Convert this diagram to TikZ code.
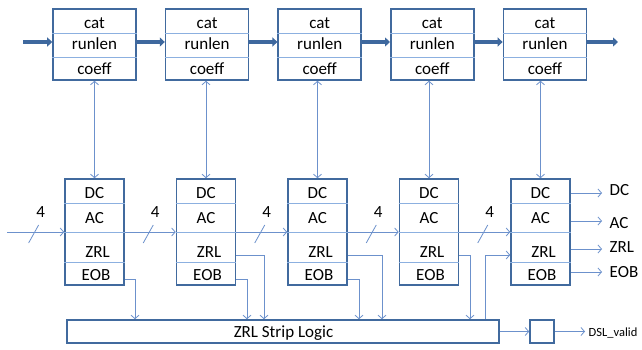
\documentclass[tikz,border=0pt]{standalone}
\usepackage{fontspec}
\setmainfont{Carlito}
\usetikzlibrary{arrows.meta,calc}
\definecolor{boxblue}{RGB}{65,106,158}
\definecolor{linblue}{RGB}{108,145,204}
\definecolor{divblue}{RGB}{140,176,224}
\definecolor{thickblue}{RGB}{62,104,158}
\begin{document}
\begin{tikzpicture}[x=1pt,y=-1pt,
  topbox/.style={draw=boxblue,line width=1.6pt,minimum width=83pt,minimum height=71pt,inner sep=0pt},
  botbox/.style={draw=boxblue,line width=1.6pt,minimum width=59pt,minimum height=106pt,inner sep=0pt},
  smallbox/.style={draw=boxblue,line width=1.6pt,inner sep=0pt},
  lbl/.style={font=\fontsize{17}{19}\selectfont,inner sep=0pt,anchor=base},
  divl/.style={draw=divblue,line width=0.8pt},
  wire/.style={draw=linblue,line width=0.8pt},
  tip/.style={-{Straight Barb[length=3.5pt,width=8pt]}},
  dtip/.style={{Straight Barb[length=3.5pt,width=8pt]}-{Straight Barb[length=3.5pt,width=8pt]}},
  thickarr/.style={draw=thickblue,line width=3.5pt,-{Triangle[width=9pt,length=5pt]}}
]
\fill[white] (0,0) rectangle (642,350);
\useasboundingbox (0,0) rectangle (642,350);

\foreach \i in {1,...,5}{
  \pgfmathsetmacro\tx{94.5+112.6*(\i-1)}
  \pgfmathsetmacro\bx{94.5+111.5*(\i-1)}
  % top register
  \node[topbox] (t\i) at (\tx,44.5) {};
  \draw[divl] (t\i.west |- 0,33) -- (t\i.east |- 0,33);
  \draw[divl] (t\i.west |- 0,57) -- (t\i.east |- 0,57);
  \node[lbl] (tcat\i) at (\tx,28.5) {cat};
  \node[lbl] (trun\i) at (\tx,50) {runlen};
  \node[lbl] (tcoe\i) at (\tx,75) {coeff};
  % bottom register
  \node[botbox] (b\i) at (\bx,232) {};
  \draw[divl] (b\i.west |- 0,203) -- (b\i.east |- 0,203);
  \draw[divl] (b\i.west |- 0,232) -- (b\i.east |- 0,232);
  \draw[divl] (b\i.west |- 0,262) -- (b\i.east |- 0,262);
  \node[lbl] (bdc\i) at (\bx,198) {DC};
  \node[lbl] (bac\i) at (\bx,223) {AC};
  \node[lbl] (bzrl\i) at (\bx+3,257) {ZRL};
  \node[lbl] (beob\i) at (\bx+1.5,280) {EOB};
  % link
  \draw[wire,dtip] (t\i.south -| b\i.north) -- (b\i.north);
}

% thick pipeline arrows
\coordinate (tin) at (23,42);
\coordinate (tout) at (618,42);
\draw[thickarr] (tin) -- (tin -| t1.west);
\foreach \i/\j in {1/2,2/3,3/4,4/5}{
  \draw[thickarr] ([yshift=2.5pt]t\i.east) -- ([yshift=2.5pt]t\j.west);
}
\draw[thickarr] ([yshift=2.5pt]t5.east) -- (tout);

% 4-bit inputs
\coordinate (bin) at (7,232);
\draw[wire,tip] (bin) -- (b1.west);
\path (bin) -- (b1.west) coordinate[pos=0.5] (m1);
\foreach \i/\j in {1/2,2/3,3/4,4/5}{
  \draw[wire,tip] (b\i.east) -- (b\j.west);
  \path (b\i.east) -- (b\j.west) coordinate[pos=0.5] (m\j);
}
\foreach \j in {1,...,5}{
  \draw[wire] ($(m\j)+(-7,11)$) -- ($(m\j)+(3,-7)$);
  \node[lbl] (four\j) at ($(m\j)+(5,-15)$) {4};
}

% strip logic
\node[smallbox,minimum width=432pt,minimum height=23pt] (strip) at (283,331.5) {};
\node[lbl] (striptext) at (283.5,337) {ZRL Strip Logic};
\node[smallbox,minimum width=24pt,minimum height=23pt] (vbox) at (542,331.5) {};

% feeds into strip logic
\draw[wire,tip] (b1.east |- 0,279) -| (strip.north -| 135,0);
\draw[wire,tip] (b2.east |- 0,279) -| (strip.north -| 247,0);
\draw[wire,tip] (b2.east |- 0,255) -| (strip.north -| 264,0);
\draw[wire,tip] (b3.east |- 0,279) -| (strip.north -| 359,0);
\draw[wire,tip] (b3.east |- 0,255) -| (strip.north -| 382,0);
\draw[wire,tip] (b4.east |- 0,255) -| (strip.north -| 470,0);
\draw[wire,tip] (strip.north -| 485,0) |- (b5.west |- 0,255);

% outputs
\foreach \y/\by/\t/\n in {193/195/DC/o1,221/228/AC/o2,249/252/ZRL/o3,272/277/EOB/o4}{
  \coordinate (\n e) at (602,\y);
  \draw[wire,tip] (b5.east |- \n e) -- (\n e);
  \node[lbl,anchor=base west] (\n) at (609.5,\by) {\t};
}

\draw[wire,tip] (strip.east) -- (vbox.west);
\coordinate (dslend) at (585,331.5);
\draw[wire,tip] (vbox.east) -- (dslend);
\node[lbl,anchor=base west,font=\fontsize{12.5}{14}\selectfont] (dsl) at (588.5,336) {DSL\_valid};
\end{tikzpicture}
\end{document}
